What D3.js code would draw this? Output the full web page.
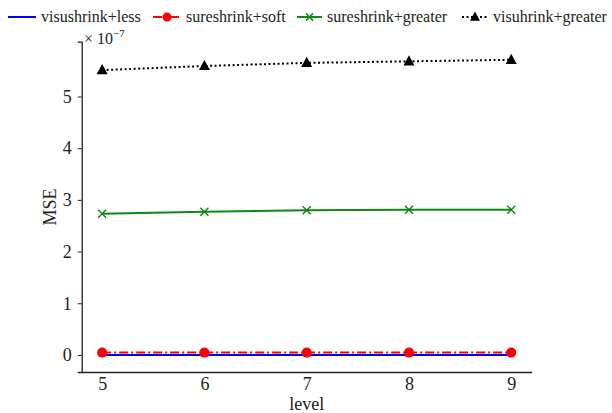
<!DOCTYPE html>
<html><head><meta charset="utf-8">
<script src="https://cdn.jsdelivr.net/npm/d3@7"></script>
<style>body{margin:0;background:#fff}svg{display:block}</style>
</head><body><svg id="c" width="612" height="413"></svg>
<script>
const levels = [5, 6, 7, 8, 9];
const visuLess = [0.0, 0.0, 0.0, 0.0, 0.0];
const sureSoft = [0.045, 0.045, 0.045, 0.045, 0.045];
const sureGreater = [2.73, 2.77, 2.80, 2.81, 2.81];
const visuGreater = [5.51, 5.59, 5.65, 5.68, 5.71];
const yTicks = [0, 1, 2, 3, 4, 5];
const seriesNames = ["visushrink+less", "sureshrink+soft", "sureshrink+greater", "visuhrink+greater"];

const FONT = "'Liberation Serif', 'DejaVu Serif', serif";
const svg = d3.select("#c");
const x = d3.scaleLinear().domain([4.8, 9.2]).range([81.7, 531.7]);
const y = d3.scaleLinear().domain([-0.33, 6.06]).range([372, 41.7]);

const series = [
  {name: seriesNames[0], vals: visuLess, color: "#0000ff", dash: null, marker: "none"},
  {name: seriesNames[1], vals: sureSoft, color: "#ff0000", dash: "9,3,2,3", marker: "circle"},
  {name: seriesNames[2], vals: sureGreater, color: "#118811", dash: null, marker: "x"},
  {name: seriesNames[3], vals: visuGreater, color: "#000000", dash: "2,2.5", marker: "tri"}
];

// axes
const xAxis = d3.axisBottom(x).tickValues(levels).tickSize(0).tickPadding(5).tickFormat(d3.format("d"));
const gx = svg.append("g").attr("transform", "translate(0,372)").call(xAxis);
const yAxis = d3.axisLeft(y).tickValues(yTicks).tickSize(4).tickPadding(6).tickFormat(d3.format("d"));
const gy = svg.append("g").attr("transform", "translate(81.7,0)").call(yAxis);
[gx, gy].forEach(g => {
  g.attr("font-family", null);
  g.select(".domain").attr("stroke", "#222").attr("stroke-width", 1.3);
  g.selectAll(".tick line").attr("stroke", "#222");
  g.selectAll(".tick text").attr("fill", "#222").style("font-family", FONT).style("font-size", "18px");
});

svg.append("text").attr("x", 306.7).attr("y", 410).attr("text-anchor", "middle").style("font-family", FONT).style("font-size", "18px").attr("fill", "#222").text("level");
svg.append("text").attr("transform", "translate(56,207) rotate(-90)").attr("text-anchor", "middle").style("font-family", FONT).style("font-size", "18px").attr("fill", "#222").text("MSE");
const mult = svg.append("text").attr("x", 84).attr("y", 44).style("font-family", FONT).style("font-size", "16px").attr("fill", "#222");
mult.append("tspan").text("× 10");
mult.append("tspan").attr("dy", -7).style("font-size", "11px").text("−7");

function marker(g, type, cx, cy, color, s) {
  if (type === "circle") g.append("circle").attr("cx", cx).attr("cy", cy).attr("r", s).attr("fill", color);
  else if (type === "x") g.append("path").attr("d", `M${cx-s},${cy-s}L${cx+s},${cy+s}M${cx-s},${cy+s}L${cx+s},${cy-s}`).attr("stroke", color).attr("stroke-width", 1.5);
  else if (type === "tri") g.append("path").attr("d", `M${cx},${cy-s*1.1}L${cx+s},${cy+s*0.75}L${cx-s},${cy+s*0.75}Z`).attr("fill", color);
}
const msize = {circle: 5, x: 4, tri: 5.5, none: 0};

const line = d3.line().x((d, i) => x(levels[i])).y(d => y(d));
series.forEach(s => {
  const g = svg.append("g");
  g.append("path").attr("d", line(s.vals)).attr("fill", "none").attr("stroke", s.color)
    .attr("stroke-width", 2).attr("stroke-dasharray", s.dash);
  if (s.marker !== "none") s.vals.forEach((v, i) => marker(g, s.marker, x(levels[i]), y(v), s.color, msize[s.marker]));
});

// legend
const legX = [8, 153, 297, 462];
const legTextX = [41, 186, 327, 493];
series.forEach((s, i) => {
  const g = svg.append("g");
  const x0 = legX[i], x1 = legTextX[i] - 5, cy = 17;
  g.append("line").attr("x1", x0).attr("x2", x1).attr("y1", cy).attr("y2", cy).attr("stroke", s.color)
    .attr("stroke-width", 2).attr("stroke-dasharray", s.dash);
  if (s.marker !== "none") marker(g, s.marker, (x0 + x1) / 2, cy, s.color, msize[s.marker] * 0.9);
  g.append("text").attr("x", legTextX[i]).attr("y", cy + 5).style("font-family", FONT).style("font-size", "16px").attr("fill", "#222").text(s.name);
});
</script></body></html>
